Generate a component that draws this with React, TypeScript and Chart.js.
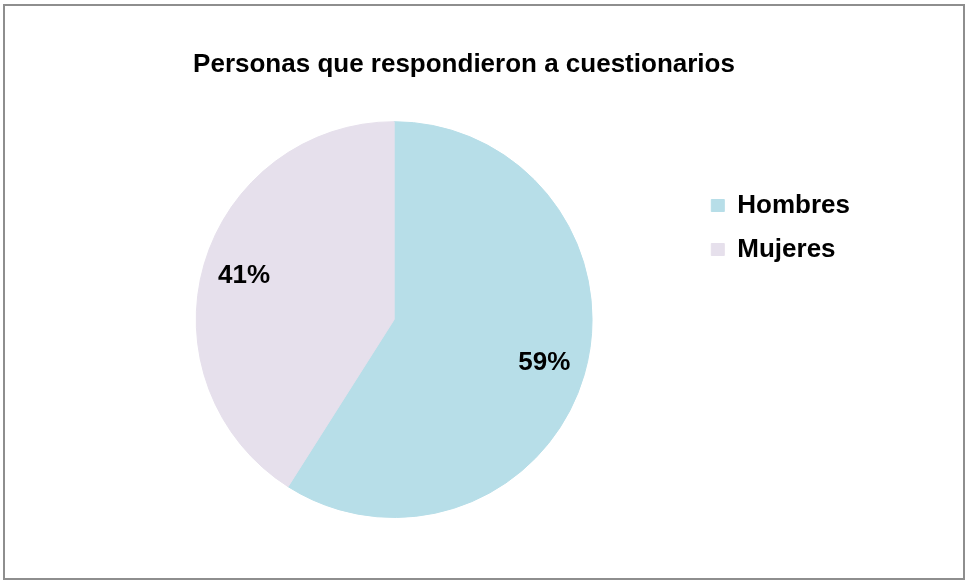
import React, { useEffect, useRef } from 'react';
import { Chart, registerables, layouts } from 'chart.js';

Chart.register(...registerables);

const TITLE = 'Personas que respondieron a cuestionarios';
const categories = ['Hombres', 'Mujeres'];
const values = [59, 41];
const colors = ['#B7DEE8', '#E6E0EC'];

const FONT = "'Liberation Sans', Arial, Helvetica, sans-serif";

const framePlugin = {
  id: 'frame',
  beforeDraw(chart: any) {
    const ctx = chart.ctx;
    ctx.save();
    ctx.fillStyle = '#ffffff';
    ctx.fillRect(0, 0, chart.width, chart.height);
    ctx.strokeStyle = '#8e8e8e';
    ctx.lineWidth = 2;
    ctx.strokeRect(4, 5, 960, 574);
    ctx.restore();
  },
};

// A left-side layout spacer so the pie sits left of the title's centre
const spacerPlugin = {
  id: 'leftSpacer',
  beforeInit(chart: any) {
    const box: any = {
      position: 'left',
      weight: 0,
      fullSize: false,
      options: {},
      left: 0,
      top: 0,
      right: 0,
      bottom: 0,
      width: 0,
      height: 0,
      isHorizontal: () => false,
      update(maxWidth: number, maxHeight: number) {
        box.width = 27;
        box.height = maxHeight;
      },
      draw() {},
    };
    layouts.addBox(chart, box);
  },
};

const pctPlugin = {
  id: 'pct',
  afterDatasetsDraw(chart: any) {
    const ctx = chart.ctx;
    const meta = chart.getDatasetMeta(0);
    const data = chart.data.datasets[0].data as number[];
    const total = data.reduce((a, b) => a + b, 0);
    ctx.save();
    ctx.font = `bold 26px ${FONT}`;
    ctx.fillStyle = '#000000';
    ctx.textAlign = 'center';
    ctx.textBaseline = 'middle';
    meta.data.forEach((arc: any, i: number) => {
      const { x, y, startAngle, endAngle, outerRadius } = arc.getProps(
        ['x', 'y', 'startAngle', 'endAngle', 'outerRadius'],
        true
      );
      const mid = (startAngle + endAngle) / 2;
      const r = outerRadius * 0.79;
      ctx.fillText(
        Math.round((data[i] / total) * 100) + '%',
        x + Math.cos(mid) * r,
        y + Math.sin(mid) * r
      );
    });
    ctx.restore();
  },
};

export default function App() {
  const ref = useRef<HTMLCanvasElement | null>(null);

  useEffect(() => {
    document.body.style.margin = '0';
    const canvas = ref.current;
    if (!canvas) return;
    const chart = new Chart(canvas, {
      type: 'pie',
      data: {
        labels: categories,
        datasets: [
          {
            data: values,
            backgroundColor: colors,
            borderColor: colors,
            borderWidth: 1,
          },
        ],
      },
      options: {
        responsive: false,
        animation: false,
        events: [],
        layout: { padding: { left: 68, right: 106, top: 0, bottom: 62 } },
        plugins: {
          title: {
            display: true,
            text: TITLE,
            color: '#000000',
            font: { family: FONT, size: 26, weight: 'bold', lineHeight: 1.2 },
            padding: { top: 49.5, bottom: 40.5 },
          },
          legend: {
            display: true,
            position: 'right',
            align: 'start',
            title: {
              display: true,
              text: ' ',
              font: { family: FONT, size: 12, lineHeight: 1 },
              padding: { top: 162.5, bottom: 0 },
            },
            labels: {
              color: '#000000',
              font: { family: FONT, size: 26, weight: 'bold' },
              boxWidth: 13,
              boxHeight: 12,
              padding: 18,
            },
          },
          tooltip: { enabled: false },
        },
      },
      plugins: [framePlugin, spacerPlugin, pctPlugin],
    } as any);
    return () => chart.destroy();
  }, []);

  return (
    <div style={{ width: 966, height: 580, position: 'relative' }}>
      <canvas ref={ref} width={966} height={580} style={{ display: 'block' }} />
    </div>
  );
}
